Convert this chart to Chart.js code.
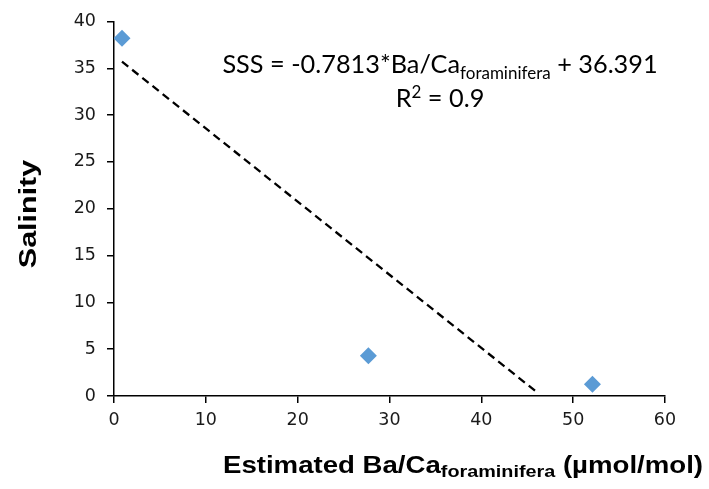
<!DOCTYPE html>
<html>
<head>
<meta charset="utf-8">
<script src="https://cdn.jsdelivr.net/npm/chart.js@4.4.1/dist/chart.umd.min.js"></script>
<style>
  html, body { margin: 0; padding: 0; background: #fff; }
  #wrap { width: 709px; height: 489px; }
</style>
</head>
<body>
<div id="wrap"><canvas id="salinityChart" width="709" height="489"></canvas></div>
<script>
// measured samples: estimated Ba/Ca (umol/mol) vs salinity
const baCa = [0.87, 27.7, 52.1];
const salinity = [38.2, 4.3, 1.25];

// linear trendline endpoints as drawn
const trendX = [0.87, 46.0];
const trendY = [35.71, 0.45];

const xTicks = [0, 10, 20, 30, 40, 50, 60];
const yTicks = [0, 5, 10, 15, 20, 25, 30, 35, 40];

const eqLine1 = ['SSS = -0.7813*Ba/Ca', 'foraminifera', ' + 36.391'];
const eqLine2 = ['R', '2', ' = 0.9'];
const xTitle = ['Estimated Ba/Ca', 'foraminifera', ' (\u00b5mol/mol)'];
const yTitle = 'Salinity';

// draws a run of [normal, sub/sup, normal] text starting at x
function drawRun(ctx, parts, x, y, bigFont, smallFont, shift) {
  ctx.font = bigFont;
  ctx.fillText(parts[0], x, y);
  x += ctx.measureText(parts[0]).width;
  ctx.font = smallFont;
  ctx.fillText(parts[1], x, y + shift);
  x += ctx.measureText(parts[1]).width;
  ctx.font = bigFont;
  ctx.fillText(parts[2], x, y);
}

function runWidth(ctx, parts, bigFont, smallFont) {
  ctx.font = bigFont;
  let w = ctx.measureText(parts[0]).width + ctx.measureText(parts[2]).width;
  ctx.font = smallFont;
  return w + ctx.measureText(parts[1]).width;
}

const labelsPlugin = {
  id: 'labels',
  afterDraw(chart) {
    const ctx = chart.ctx;
    const xs = chart.scales.x, ys = chart.scales.y;
    ctx.save();
    ctx.fillStyle = '#000';
    ctx.textAlign = 'left';
    ctx.textBaseline = 'alphabetic';

    // trendline equation, centred near x=35.5
    const cx = xs.getPixelForValue(35.5);
    const big = '25.3px Lato', small = '17px Lato';
    let w = runWidth(ctx, eqLine1, big, small);
    drawRun(ctx, eqLine1, cx - w / 2, ys.getPixelForValue(34.5), big, small, 6);
    w = runWidth(ctx, eqLine2, big, small);
    drawRun(ctx, eqLine2, cx - w / 2, ys.getPixelForValue(30.9), big, small, -9);

    // x axis title (text in the original is drawn wide)
    ctx.save();
    ctx.translate(223, 473);
    ctx.scale(1.2, 1);
    drawRun(ctx, xTitle, 0, 0, 'bold 23px "Liberation Sans"', 'bold 16.5px "Liberation Sans"', 4);
    ctx.restore();

    // y axis title
    ctx.translate(36, 214);
    ctx.rotate(-Math.PI / 2);
    ctx.scale(1.27, 1);
    ctx.textAlign = 'center';
    ctx.font = 'bold 24px "Liberation Sans"';
    ctx.fillText(yTitle, 0, 0);
    ctx.restore();
  }
};

const tickFont = { family: '"DejaVu Sans"', size: 17.5 };

const ctx = document.getElementById('salinityChart').getContext('2d');
new Chart(ctx, {
  type: 'scatter',
  data: {
    datasets: [
      {
        label: 'Samples',
        data: baCa.map((x, i) => ({ x: x, y: salinity[i] })),
        pointStyle: 'rectRot',
        pointRadius: 8.5,
        pointHoverRadius: 8.5,
        backgroundColor: '#5b9bd5',
        borderColor: '#5b9bd5',
        borderWidth: 0
      },
      {
        label: 'Linear fit',
        type: 'line',
        data: trendX.map((x, i) => ({ x: x, y: trendY[i] })),
        borderColor: '#000',
        borderWidth: 2.3,
        borderDash: [8, 5],
        pointRadius: 0,
        fill: false
      }
    ]
  },
  options: {
    responsive: false,
    animation: false,
    layout: { padding: { left: 0, right: 44, top: 20, bottom: 0 } },
    plugins: {
      legend: { display: false },
      tooltip: { enabled: false }
    },
    scales: {
      x: {
        type: 'linear',
        min: 0,
        max: 60,
        afterBuildTicks: s => { s.ticks = xTicks.map(v => ({ value: v })); },
        afterFit: s => { s.height = 93; },
        border: { color: '#000', width: 1.5 },
        grid: { drawOnChartArea: false, color: '#000', tickLength: 7, lineWidth: 1.5 },
        ticks: { color: '#1a1a1a', padding: 7, font: tickFont }
      },
      y: {
        type: 'linear',
        min: 0,
        max: 40,
        afterBuildTicks: s => { s.ticks = yTicks.map(v => ({ value: v })); },
        afterFit: s => { s.width = 114; },
        border: { color: '#000', width: 1.5 },
        grid: { drawOnChartArea: false, color: '#000', tickLength: 7, lineWidth: 1.5 },
        ticks: { color: '#1a1a1a', padding: 11, font: tickFont }
      }
    }
  },
  plugins: [labelsPlugin]
});
</script>
</body>
</html>
